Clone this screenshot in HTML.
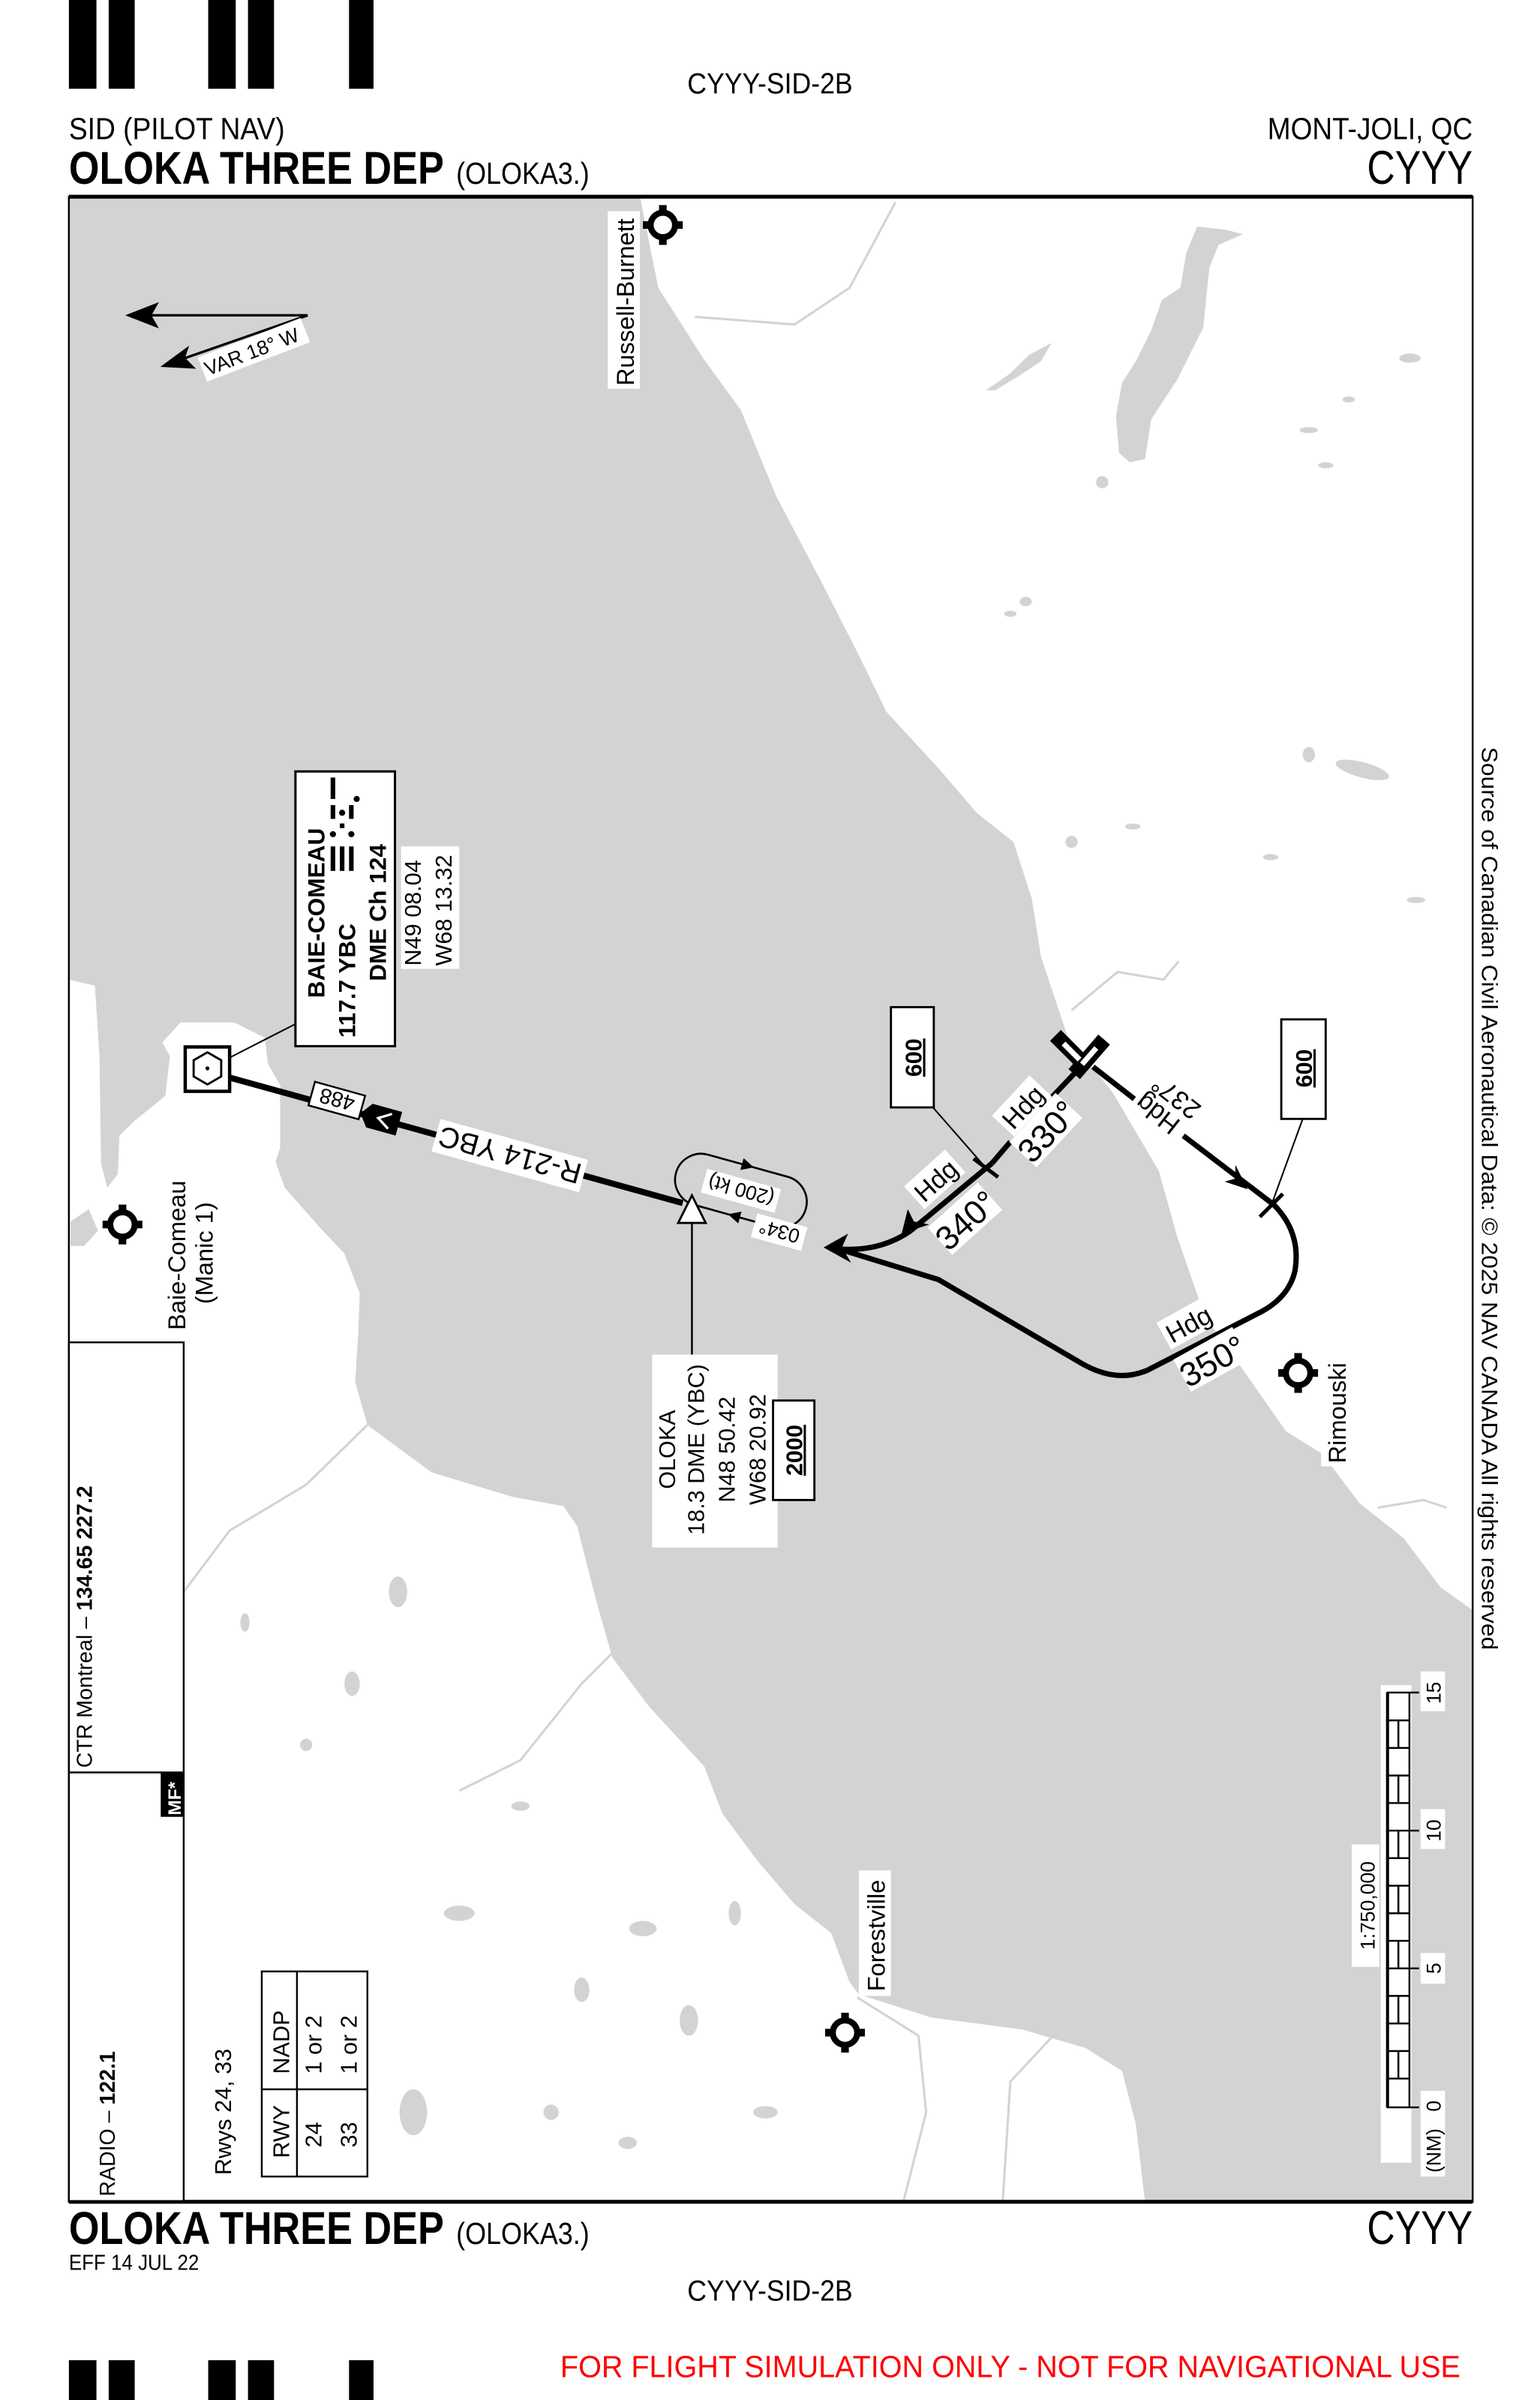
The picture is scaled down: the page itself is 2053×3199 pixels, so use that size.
<!DOCTYPE html>
<html><head><meta charset="utf-8"><style>
html,body{margin:0;padding:0;background:#fff;}
svg{display:block;}
text{font-family:"Liberation Sans",Arial,sans-serif;fill:#000;}
</style></head><body>
<svg width="2053" height="3199" viewBox="0 0 1006 1568" preserveAspectRatio="none" xmlns="http://www.w3.org/2000/svg">
<rect x="0" y="0" width="1006" height="1568" fill="#fff"/>
<g fill="#000">
<rect x="45" y="0" width="18" height="58"/><rect x="71" y="0" width="17" height="58"/>
<rect x="136" y="0" width="18" height="58"/><rect x="162" y="0" width="17" height="58"/>
<rect x="228" y="0" width="16" height="58"/>
<rect x="45" y="1542" width="18" height="26"/><rect x="71" y="1542" width="17" height="26"/>
<rect x="136" y="1542" width="18" height="26"/><rect x="162" y="1542" width="17" height="26"/>
<rect x="228" y="1542" width="16" height="26"/>
</g>
<text x="449" y="61" font-size="19" textLength="108" lengthAdjust="spacingAndGlyphs">CYYY-SID-2B</text>
<text x="45" y="91" font-size="20" textLength="141" lengthAdjust="spacingAndGlyphs">SID (PILOT NAV)</text>
<text x="828" y="91" font-size="20" textLength="134" lengthAdjust="spacingAndGlyphs">MONT-JOLI, QC</text>
<text x="45" y="120" font-size="30" font-weight="bold" textLength="245" lengthAdjust="spacingAndGlyphs">OLOKA THREE DEP</text>
<text x="298" y="120" font-size="20" textLength="87" lengthAdjust="spacingAndGlyphs">(OLOKA3.)</text>
<text x="893" y="120" font-size="31" textLength="69" lengthAdjust="spacingAndGlyphs">CYYY</text>
<text x="45" y="1466" font-size="30" font-weight="bold" textLength="245" lengthAdjust="spacingAndGlyphs">OLOKA THREE DEP</text>
<text x="298" y="1466" font-size="20" textLength="87" lengthAdjust="spacingAndGlyphs">(OLOKA3.)</text>
<text x="893" y="1466" font-size="31" textLength="69" lengthAdjust="spacingAndGlyphs">CYYY</text>
<text x="45" y="1483" font-size="14" textLength="85" lengthAdjust="spacingAndGlyphs">EFF 14 JUL 22</text>
<text x="449" y="1503" font-size="19" textLength="108" lengthAdjust="spacingAndGlyphs">CYYY-SID-2B</text>
<text x="366" y="1553" font-size="20" style="fill:#f00" textLength="588" lengthAdjust="spacingAndGlyphs">FOR FLIGHT SIMULATION ONLY - NOT FOR NAVIGATIONAL USE</text>

<clipPath id="cl"><rect x="45" y="128" width="917" height="1311"/></clipPath>
<g clip-path="url(#cl)">
<path fill="#d3d3d3" d="M45,128 L418,128 L430,188 L460,235 L484,268 L507,324 L537,381 L561,428 L579,465 L614,503 L638,531 L662,550 L674,587 L680,625 L686,643 L697,676 L727,714 L757,765 L769,808 L787,860 L810,892 L840,935 L864,950 L888,982 L917,1005 L941,1037 L962,1052 L962,1439 L748,1439 L742,1388 L733,1353 L709,1338 L668,1326 L608,1318 L561,1303 L555,1295 L543,1263 L519,1244 L495,1216 L472,1185 L460,1154 L424,1115 L400,1083 L389,1044 L377,997 L368,984 L335,978 L282,962 L240,931 L232,903 L234,871 L235,845 L225,819 L209,802 L186,776 L180,759 L183,750 L183,709 L175,695 L173,678 L153,668 L118,668 L106,681 L111,690 L108,716 L87,733 L78,742 L77,767 L70,776 L66,760 L65,690 L62,644 L45,640 Z"/>
<path fill="#d3d3d3" d="M46,798 L58,790 L64,804 L55,814 L46,814 Z"/>
<g fill="#d3d3d3">
<path d="M782,148 L800,150 L812,153 L796,160 L790,175 L786,214 L769,248 L752,274 L748,300 L738,302 L731,296 L729,272 L733,250 L742,236 L752,216 L759,196 L771,188 L775,165 Z"/>
<path d="M644,255 L660,244 L672,232 L687,224 L680,236 L665,246 L650,255 Z"/>
<ellipse cx="921" cy="234" rx="7" ry="3"/>
<ellipse cx="890" cy="503" rx="18" ry="5" transform="rotate(15 890 503)"/>
<ellipse cx="855" cy="493" rx="4" ry="5"/>
<ellipse cx="881" cy="261" rx="4" ry="2"/>
<ellipse cx="866" cy="304" rx="5" ry="2"/>
<ellipse cx="855" cy="281" rx="6" ry="2"/>
<ellipse cx="670" cy="393" rx="4" ry="3"/>
<ellipse cx="720" cy="315" rx="4" ry="4"/>
<ellipse cx="660" cy="401" rx="4" ry="2"/>
<ellipse cx="740" cy="540" rx="5" ry="2"/>
<ellipse cx="700" cy="550" rx="4" ry="4"/>
<ellipse cx="925" cy="588" rx="6" ry="2"/>
<ellipse cx="830" cy="560" rx="5" ry="2"/>
<ellipse cx="260" cy="1040" rx="6" ry="10"/>
<ellipse cx="230" cy="1100" rx="5" ry="8"/>
<ellipse cx="340" cy="1180" rx="6" ry="3"/>
<ellipse cx="300" cy="1250" rx="10" ry="5"/>
<ellipse cx="270" cy="1380" rx="9" ry="15"/>
<ellipse cx="380" cy="1300" rx="5" ry="8"/>
<ellipse cx="420" cy="1260" rx="9" ry="5"/>
<ellipse cx="450" cy="1320" rx="6" ry="10"/>
<ellipse cx="500" cy="1380" rx="8" ry="4"/>
<ellipse cx="360" cy="1380" rx="5" ry="5"/>
<ellipse cx="480" cy="1250" rx="4" ry="8"/>
<ellipse cx="200" cy="1140" rx="4" ry="4"/>
<ellipse cx="160" cy="1060" rx="3" ry="6"/>
<ellipse cx="410" cy="1400" rx="6" ry="4"/>
</g>
<g fill="none" stroke="#d3d3d3" stroke-width="1.5">
<polyline points="454,207 519,212 555,188 585,132"/>
<polyline points="700,660 730,635 760,640 770,628"/>
<polyline points="560,1305 600,1330 605,1380 590,1439"/>
<polyline points="688,1330 660,1360 655,1439"/>
<polyline points="240,931 200,970 150,1000 120,1040"/>
<polyline points="400,1080 380,1100 340,1150 300,1170"/>
<polyline points="900,985 930,980 945,985"/>
</g>
</g>
<rect x="45" y="128.5" width="917" height="1310" fill="none" stroke="#000" stroke-width="1.2"/>
<line x1="45" y1="128.5" x2="962" y2="128.5" stroke="#000" stroke-width="2.5"/>
<line x1="45" y1="1438.5" x2="962" y2="1438.5" stroke="#000" stroke-width="2.5"/>

<rect x="45" y="877" width="75" height="561" fill="#fff" stroke="#000" stroke-width="1.2"/>
<line x1="45" y1="1158" x2="120" y2="1158" stroke="#000" stroke-width="1.2"/>
<rect x="105" y="1158" width="15" height="29" fill="#000"/>
<text transform="translate(118,1186) rotate(-90)" font-size="12" font-weight="bold" style="fill:#fff">MF*</text>
<text transform="translate(60,1155) rotate(-90)" font-size="14">CTR Montreal – <tspan font-weight="bold">134.65  227.2</tspan></text>
<text transform="translate(75,1435) rotate(-90)" font-size="14">RADIO – <tspan font-weight="bold">122.1</tspan></text>

<text transform="translate(151,1421) rotate(-90)" font-size="15">Rwys 24, 33</text>
<rect x="171" y="1288" width="69" height="134" fill="#fff" stroke="#000" stroke-width="1.2"/>
<line x1="194" y1="1288" x2="194" y2="1422" stroke="#000" stroke-width="1.2"/>
<line x1="171" y1="1365" x2="240" y2="1365" stroke="#000" stroke-width="1.2"/>
<text transform="translate(189,1410) rotate(-90)" font-size="15">RWY</text>
<text transform="translate(210,1403) rotate(-90)" font-size="15">24</text>
<text transform="translate(233,1403) rotate(-90)" font-size="15">33</text>
<text transform="translate(189,1355) rotate(-90)" font-size="15">NADP</text>
<text transform="translate(210,1355) rotate(-90)" font-size="15">1 or 2</text>
<text transform="translate(233,1355) rotate(-90)" font-size="15">1 or 2</text>

<rect x="902" y="1101" width="20" height="312" fill="#fff"/>
<rect x="928" y="1092" width="16" height="26" fill="#fff"/>
<rect x="928" y="1182" width="16" height="26" fill="#fff"/>
<rect x="928" y="1276" width="16" height="20" fill="#fff"/>
<rect x="928" y="1366" width="16" height="56" fill="#fff"/>
<rect x="883" y="1205" width="18" height="80" fill="#fff"/>
<g stroke="#000" stroke-width="1.2" fill="none">
<rect x="906.4" y="1105.8" width="14.3" height="271"/>
<line x1="906.4" y1="1105.8" x2="906.4" y2="1376.8" stroke-width="2"/>
<path d="M906.4,1124 H920.7 M906.4,1142 H920.7 M906.4,1160 H920.7 M906.4,1178 H920.7 M906.4,1214 H920.7 M906.4,1232 H920.7 M906.4,1250 H920.7 M906.4,1268 H920.7 M906.4,1304 H920.7 M906.4,1322 H920.7 M906.4,1340 H920.7 M906.4,1358 H920.7 M906.4,1196 H920.7 M906.4,1286 H920.7"/>
<path d="M920.7,1105.8 H927 M920.7,1196 H927 M920.7,1286 H927 M920.7,1376.8 H927"/>
<path d="M913.5,1124 V1142 M913.5,1160 V1178 M913.5,1196 V1214 M913.5,1232 V1250 M913.5,1268 V1286 M913.5,1304 V1322 M913.5,1340 V1358"/>
</g>
<g font-size="13">
<text transform="translate(941,1376) rotate(-90)" text-anchor="middle">0</text>
<text transform="translate(941,1286) rotate(-90)" text-anchor="middle">5</text>
<text transform="translate(941,1196) rotate(-90)" text-anchor="middle">10</text>
<text transform="translate(941,1106) rotate(-90)" text-anchor="middle">15</text>
<text transform="translate(941,1405) rotate(-90)" text-anchor="middle">(NM)</text>
<text transform="translate(898,1245) rotate(-90)" text-anchor="middle">1:750,000</text>
</g>

<text transform="translate(968,783) rotate(90)" font-size="14.5" text-anchor="middle" textLength="590" lengthAdjust="spacingAndGlyphs">Source of Canadian Civil Aeronautical Data: © 2025 NAV CANADA All rights reserved</text>

<g stroke="#000" stroke-width="1.6" fill="#000">
<line x1="201" y1="206" x2="92" y2="206"/>
<polygon points="84,206 102,199 98,206 102,213"/>
<line x1="201" y1="206" x2="115" y2="236"/>
<polygon points="107,239 122,228 120,234 126,240"/>
</g>
<rect x="-36" y="-9" width="72" height="17" fill="#fff" transform="translate(166,229) rotate(-21)"/>
<text transform="translate(166,234) rotate(-21)" font-size="13" text-anchor="middle">VAR 18° W</text>

<defs>
<g id="ad">
<circle cx="0" cy="0" r="8" fill="none" stroke="#000" stroke-width="4"/>
<rect x="-2.5" y="-13" width="5" height="5" fill="#000"/>
<rect x="-2.5" y="8" width="5" height="5" fill="#000"/>
<rect x="-13" y="-2.5" width="5" height="5" fill="#000"/>
<rect x="8" y="-2.5" width="5" height="5" fill="#000"/>
</g>
</defs>
<use href="#ad" x="433" y="147"/>
<use href="#ad" x="80" y="800"/>
<use href="#ad" x="848" y="897"/>
<use href="#ad" x="552" y="1328"/>
<rect x="397" y="138" width="21" height="116" fill="#fff"/>
<text transform="translate(414,252) rotate(-90)" font-size="16">Russell-Burnett</text>
<text transform="translate(121,869) rotate(-90)" font-size="16">Baie-Comeau</text>
<text transform="translate(139,852) rotate(-90)" font-size="16">(Manic 1)</text>
<rect x="863" y="884" width="20" height="74" fill="#fff"/>
<text transform="translate(879,956) rotate(-90)" font-size="16">Rimouski</text>
<rect x="561" y="1222" width="21" height="82" fill="#fff"/>
<text transform="translate(578,1301) rotate(-90)" font-size="16">Forestville</text>

<rect x="193" y="504" width="65" height="179.5" fill="#fff" stroke="#000" stroke-width="1.5"/>
<line x1="150" y1="691" x2="193" y2="669" stroke="#000" stroke-width="1"/>
<g font-size="15.5" font-weight="bold">
<text transform="translate(212,652) rotate(-90)">BAIE-COMEAU</text>
<text transform="translate(232,678) rotate(-90)">117.7  YBC</text>
<text transform="translate(252,641) rotate(-90)">DME Ch 124</text>
</g>
<g fill="#000">
<rect x="216" y="553" width="3" height="16"/><rect x="222" y="553" width="3" height="16"/><rect x="228" y="553" width="3" height="16"/>
<circle cx="217.5" cy="545" r="2"/><rect x="222" y="538" width="3" height="3"/><circle cx="229.5" cy="545" r="2"/>
<rect x="216" y="526" width="3" height="9"/><circle cx="223.5" cy="531" r="2"/><rect x="228" y="526" width="3" height="9"/>
<rect x="216" y="508" width="3" height="14"/><circle cx="233" cy="522" r="2"/>
</g>
<rect x="262" y="553" width="38" height="80" fill="#fff"/>
<text transform="translate(275,631) rotate(-90)" font-size="15">N49 08.04</text>
<text transform="translate(295,631) rotate(-90)" font-size="15">W68 13.32</text>

<rect x="121" y="684" width="29" height="29" fill="#fff" stroke="#000" stroke-width="2.2"/>
<polygon points="135.5,687.5 144.5,692.7 144.5,703.3 135.5,708.5 126.5,703.3 126.5,692.7" fill="none" stroke="#000" stroke-width="1.4"/>
<circle cx="135.5" cy="698" r="1.3" fill="#000"/>

<line x1="150" y1="704" x2="446" y2="786" stroke="#000" stroke-width="4"/>
<g transform="translate(220,719) rotate(195.5)">
<rect x="-17" y="-8" width="34" height="16" fill="#fff" stroke="#000" stroke-width="1.2"/>
<text x="0" y="5.5" font-size="14" text-anchor="middle">488</text>
</g>
<g transform="translate(249,731) rotate(195.5)">
<polygon points="-12,-8 8,-8 14,0 8,8 -12,8" fill="#000"/>
<polyline points="-6,-5 2,0 -6,5" fill="none" stroke="#fff" stroke-width="1.6"/>
</g>
<g transform="translate(333,755) rotate(195.5)">
<rect x="-50" y="-11" width="100" height="22" fill="#fff"/>
<text x="0" y="7" font-size="19" text-anchor="middle">R-214 YBC</text>
</g>

<g transform="translate(484,778) rotate(15.5)">
<rect x="-44" y="-17" width="88" height="34" rx="17" fill="none" stroke="#000" stroke-width="1.3"/>
<polygon points="4,-17 -4,-21 -4,-13" fill="#000"/>
<polygon points="-4,17 4,13 4,21" fill="#000"/>
<g transform="rotate(180)"><rect x="-25" y="-8" width="50" height="16" fill="#fff"/><text x="0" y="5" font-size="13" text-anchor="middle">(200 kt)</text></g>
</g>
<g transform="translate(509,805) rotate(195.5)">
<rect x="-17" y="-8" width="34" height="16" fill="#fff"/>
<text x="0" y="5" font-size="13" text-anchor="middle">034°</text>
</g>
<polygon points="452,781 461,799 443,799" fill="#fff" stroke="#000" stroke-width="1.4"/>
<line x1="452" y1="799" x2="452" y2="886" stroke="#000" stroke-width="1.2"/>
<rect x="426" y="885" width="82" height="126" fill="#fff"/>
<g font-size="15" text-anchor="middle">
<text transform="translate(441,947) rotate(-90)">OLOKA</text>
<text transform="translate(460,947) rotate(-90)">18.3 DME (YBC)</text>
<text transform="translate(480,947) rotate(-90)">N48 50.42</text>
<text transform="translate(500,947) rotate(-90)">W68 20.92</text>
</g>
<rect x="505" y="915" width="27" height="65" fill="#fff" stroke="#000" stroke-width="1.4"/>
<text transform="translate(524,947.5) rotate(-90)" font-size="15" font-weight="bold" text-anchor="middle" text-decoration="underline">2000</text>

<g fill="none" stroke="#000" stroke-width="3.5" stroke-linejoin="round">
<path d="M705,698 L687,717"/>
<path d="M660,746 L648,760"/>
<path d="M648,760 L595,804"/>
<path d="M595,804 Q575,818 548,816"/>
<path d="M714,697 L741,718"/>
<path d="M773,742 L832,787 Q850,805 846,830 Q842,848 822,858 L750,895 Q730,904 707,891 L613,836 L548,816"/>
</g>
<g fill="#000">
<polygon points="589,806 593,790 597,798 607,800"/>
<polygon points="538,815 554,806 550,815 556,825"/>
<polygon points="815,777 800,772 807,770 807,761"/>
</g>
<line x1="636" y1="757" x2="652" y2="769" stroke="#000" stroke-width="2.5"/>
<line x1="823" y1="795" x2="838" y2="780" stroke="#000" stroke-width="2.5"/>

<g stroke-linecap="square">
<line x1="693" y1="680" x2="707" y2="694" stroke="#000" stroke-width="10"/>
<line x1="718" y1="683" x2="705" y2="698" stroke="#000" stroke-width="10"/>
<line x1="696" y1="683" x2="704" y2="691" stroke="#fff" stroke-width="3.5"/>
<line x1="715" y1="686" x2="708" y2="694" stroke="#fff" stroke-width="3.5"/>
</g>

<g transform="translate(669,724) rotate(-47)"><rect x="-18" y="-12" width="36" height="20" fill="#fff"/><text x="0" y="5" font-size="17" text-anchor="middle">Hdg</text></g>
<g transform="translate(684,739) rotate(-47)"><rect x="-22" y="-13" width="44" height="24" fill="#fff"/><text x="0" y="8" font-size="22" text-anchor="middle">330°</text></g>
<g transform="translate(612,772) rotate(-42)"><rect x="-18" y="-12" width="36" height="20" fill="#fff"/><text x="0" y="5" font-size="17" text-anchor="middle">Hdg</text></g>
<g transform="translate(631,797) rotate(-42)"><rect x="-22" y="-13" width="44" height="24" fill="#fff"/><text x="0" y="8" font-size="22" text-anchor="middle">340°</text></g>
<g transform="translate(756,728) rotate(218)"><text x="0" y="6" font-size="17" text-anchor="middle">Hdg</text></g>
<g transform="translate(768,717) rotate(218)"><text x="0" y="6" font-size="17" text-anchor="middle">237°</text></g>
<g transform="translate(777,866) rotate(-29)"><rect x="-18" y="-12" width="36" height="20" fill="#fff"/><text x="0" y="5" font-size="17" text-anchor="middle">Hdg</text></g>
<g transform="translate(792,889) rotate(-29)"><rect x="-22" y="-13" width="44" height="24" fill="#fff"/><text x="0" y="8" font-size="22" text-anchor="middle">350°</text></g>

<rect x="582" y="658" width="28" height="65.5" fill="#fff" stroke="#000" stroke-width="1.4"/>
<line x1="609" y1="723" x2="644" y2="763" stroke="#000" stroke-width="1"/>
<text transform="translate(602,691) rotate(-90)" font-size="15" font-weight="bold" text-anchor="middle" text-decoration="underline">600</text>
<rect x="837" y="666" width="29" height="65" fill="#fff" stroke="#000" stroke-width="1.4"/>
<line x1="851" y1="731" x2="831" y2="786" stroke="#000" stroke-width="1"/>
<text transform="translate(857,698) rotate(-90)" font-size="15" font-weight="bold" text-anchor="middle" text-decoration="underline">600</text>
</svg>
</body></html>
